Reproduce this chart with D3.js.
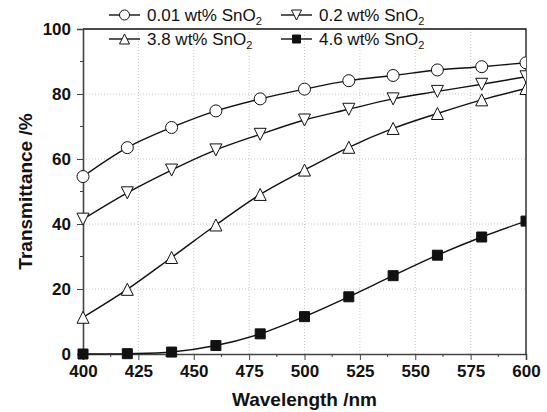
<!DOCTYPE html>
<html>
<head>
<meta charset="utf-8">
<script src="https://cdn.jsdelivr.net/npm/d3@7"></script>
<style>
  body { margin: 0; background: #fff; }
  svg { display: block; font-family: 'Liberation Sans', Arial, sans-serif; }
</style>
</head>
<body>
<svg></svg>
<script>
// wavelengths (nm)
const wavelengths = [400, 420, 440, 460, 480, 500, 520, 540, 560, 580, 600]
// transmittance (%)
const t001 = [54.6, 63.5, 69.7, 74.8, 78.5, 81.5, 84.1, 85.7, 87.4, 88.4, 89.6]
const t02 = [41.5, 49.6, 56.6, 62.8, 67.6, 72.0, 75.3, 78.5, 80.8, 83.0, 85.3]
const t38 = [11.3, 19.9, 29.7, 39.7, 49.1, 56.6, 63.6, 69.4, 74.0, 78.2, 81.7]
const t46 = [0, 0.1, 0.6, 2.6, 6.2, 11.5, 17.6, 24.1, 30.4, 36.0, 40.9]
const seriesNames = ['0.01', '0.2', '3.8', '4.6']
const xTicks = [400, 425, 450, 475, 500, 525, 550, 575, 600]
const yTicks = [0, 20, 40, 60, 80, 100]

const series = [
  { name: seriesNames[0], values: t001, marker: 'circle' },
  { name: seriesNames[1], values: t02, marker: 'down' },
  { name: seriesNames[2], values: t38, marker: 'up' },
  { name: seriesNames[3], values: t46, marker: 'square' }
]

const width = 547
const height = 412
const margin = { top: 29, right: 21, bottom: 58, left: 83 }

const x = d3.scaleLinear()
  .domain([400, 600])
  .range([margin.left, width - margin.right])

const y = d3.scaleLinear()
  .domain([0, 100])
  .range([height - margin.bottom, margin.top])

const svg = d3.select('svg')
  .attr('width', width)
  .attr('height', height)

svg.append('defs').append('clipPath').attr('id', 'clip')
  .append('rect')
  .attr('x', 0).attr('y', 0)
  .attr('width', width - margin.right)
  .attr('height', height)

// marker shapes, centred on the point
function markerPath (type, s) {
  const h = s / 2
  if (type === 'circle') return d3.symbol(d3.symbolCircle, Math.PI * h * h)()
  if (type === 'square') return `M${-h},${-h}H${h}V${h}H${-h}Z`
  if (type === 'up') return `M0,${-h}L${h},${h}L${-h},${h}Z`
  return `M0,${h}L${h},${-h}L${-h},${-h}Z`
}

// grid
const grid = svg.append('g')
  .attr('stroke', '#c8c8c8')
  .attr('stroke-width', 1)
  .attr('stroke-dasharray', '1,2')
grid.selectAll('.gx')
  .data(xTicks.slice(1, -1))
  .enter().append('line')
  .attr('x1', d => x(d)).attr('x2', d => x(d))
  .attr('y1', y(0)).attr('y2', y(100))
grid.selectAll('.gy')
  .data(yTicks.slice(1, -1))
  .enter().append('line')
  .attr('x1', x(400)).attr('x2', x(600))
  .attr('y1', d => y(d)).attr('y2', d => y(d))

// top and right frame
svg.append('path')
  .attr('d', `M${x(400)},${y(100)}H${x(600)}V${y(0)}`)
  .attr('fill', 'none')
  .attr('stroke', '#111')
  .attr('stroke-width', 1.3)

// axes
function xAxis (g) {
  g.attr('transform', `translate(0,${y(0)})`)
    .call(d3.axisBottom(x).tickValues(xTicks).tickSizeOuter(0).tickSize(6).tickPadding(5))
    .call(g => g.selectAll('.tick text')
      .attr('font-size', 17).attr('font-weight', 'bold').attr('fill', '#111'))
    .call(g => g.selectAll('.minor')
      .data(d3.range(412.5, 600, 25))
      .enter().append('line')
      .attr('x1', d => x(d)).attr('x2', d => x(d))
      .attr('y1', 0).attr('y2', 3)
      .attr('stroke', '#444'))
}

function yAxis (g) {
  g.attr('transform', `translate(${margin.left},0)`)
    .call(d3.axisLeft(y).tickValues(yTicks).tickSizeOuter(0).tickSize(6).tickPadding(6))
    .call(g => g.selectAll('.tick text')
      .attr('font-size', 17).attr('font-weight', 'bold').attr('fill', '#111'))
    .call(g => g.selectAll('.minor')
      .data(d3.range(10, 100, 20))
      .enter().append('line')
      .attr('y1', d => y(d)).attr('y2', d => y(d))
      .attr('x1', 0).attr('x2', -3)
      .attr('stroke', '#444'))
}

svg.append('g').call(xAxis)
  .call(g => g.select('.domain').attr('stroke', '#444').attr('stroke-width', 1.6))
  .call(g => g.selectAll('.tick line').attr('stroke', '#444'))
svg.append('g').call(yAxis)
  .call(g => g.select('.domain').attr('stroke', '#444').attr('stroke-width', 1.6))
  .call(g => g.selectAll('.tick line').attr('stroke', '#444'))

// axis titles
svg.append('text')
  .attr('x', (x(400) + x(600)) / 2)
  .attr('y', 406)
  .attr('text-anchor', 'middle')
  .attr('font-size', 19)
  .attr('font-weight', 'bold')
  .attr('fill', '#111')
  .text('Wavelength /nm')

svg.append('text')
  .attr('transform', `translate(32,${(y(0) + y(100)) / 2}) rotate(-90)`)
  .attr('text-anchor', 'middle')
  .attr('font-size', 19)
  .attr('font-weight', 'bold')
  .attr('fill', '#111')
  .text('Transmittance /%')

// curves and markers
const line = d3.line()
  .x((d, i) => x(wavelengths[i]))
  .y(d => y(d))
  .curve(d3.curveCatmullRom)

const plot = svg.append('g').attr('clip-path', 'url(#clip)')

series.forEach(s => {
  plot.append('path')
    .attr('d', line(s.values))
    .attr('fill', 'none')
    .attr('stroke', '#111')
    .attr('stroke-width', 1.4)
})

series.forEach(s => {
  plot.append('g')
    .selectAll('path')
    .data(s.values)
    .enter().append('path')
    .attr('transform', (d, i) => `translate(${x(wavelengths[i])},${y(d)})`)
    .attr('d', markerPath(s.marker, s.marker === 'square' ? 10 : 12))
    .attr('fill', s.marker === 'square' ? '#111' : '#fff')
    .attr('stroke', '#111')
    .attr('stroke-width', 1)
})

// legend
const legendPos = [
  { x: 109, y: 15 },
  { x: 281, y: 15 },
  { x: 109, y: 39 },
  { x: 281, y: 39 }
]

series.forEach((s, i) => {
  const p = legendPos[i]
  const g = svg.append('g').attr('transform', `translate(${p.x},${p.y})`)
  g.append('line')
    .attr('x1', 0).attr('x2', 31)
    .attr('stroke', '#111').attr('stroke-width', 1.4)
  g.append('path')
    .attr('transform', 'translate(15.5,0)')
    .attr('d', markerPath(s.marker, s.marker === 'square' ? 8 : 10))
    .attr('fill', s.marker === 'square' ? '#111' : '#fff')
    .attr('stroke', '#111')
  const t = g.append('text')
    .attr('x', 38)
    .attr('y', 6)
    .attr('font-size', 17)
    .attr('fill', '#111')
  t.append('tspan').text(`${s.name} wt% SnO`)
  t.append('tspan').attr('font-size', 11).attr('dy', 4).text('2')
})
</script>
</body>
</html>
